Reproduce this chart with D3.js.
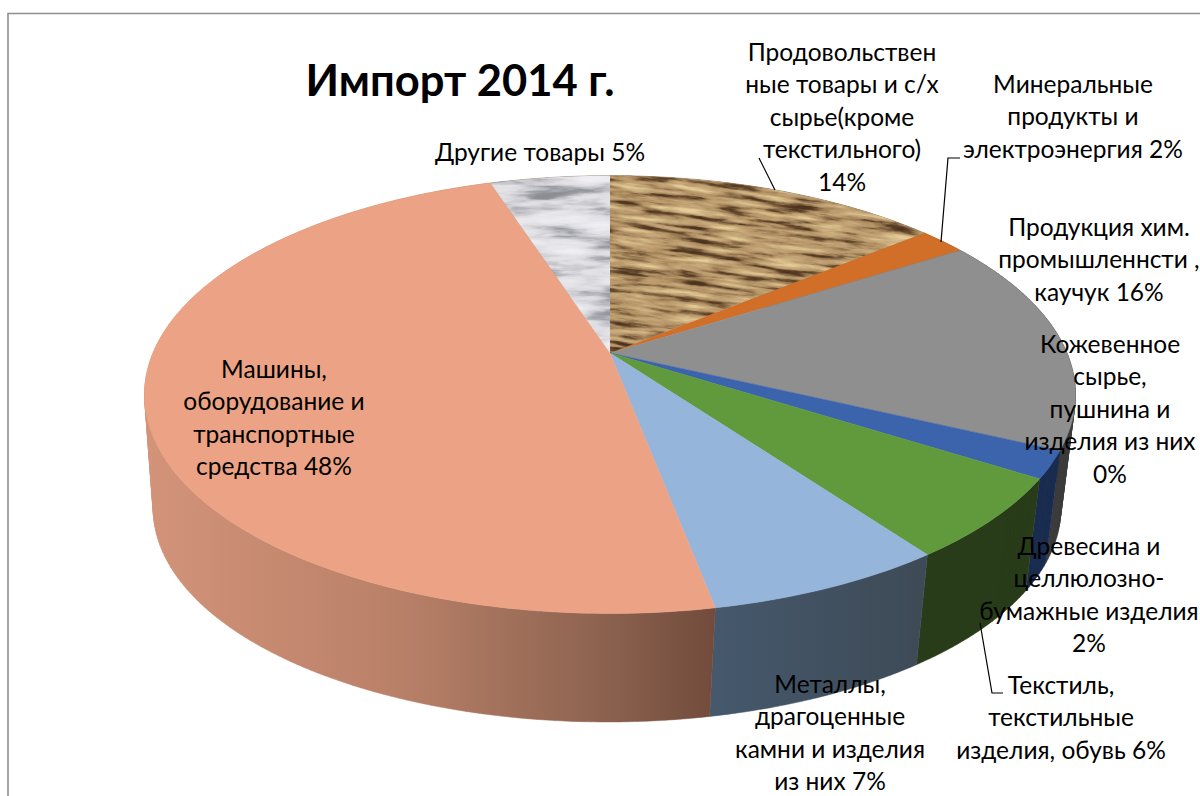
<!DOCTYPE html>
<html lang="ru">
<head>
<meta charset="utf-8">
<title>Импорт 2014 г.</title>
<script src="https://cdn.jsdelivr.net/npm/d3@7"></script>
<style>
  html, body { margin: 0; padding: 0; background: #fff; }
  svg { display: block; }
  text { font-family: Lato, "Open Sans", sans-serif; fill: #000; }
</style>
</head>
<body>
<svg id="chart" width="1200" height="796"></svg>
<script>
const titleText = 'Импорт 2014 г.';
const categories = [
  'Продовольственные товары и с/х сырье(кроме текстильного)',
  'Минеральные продукты и электроэнергия',
  'Продукция хим. промышленнсти , каучук',
  'Кожевенное сырье, пушнина и изделия из них',
  'Древесина и целлюлозно-бумажные изделия',
  'Текстиль, текстильные изделия, обувь',
  'Металлы, драгоценные камни и изделия из них',
  'Машины, оборудование и транспортные средства',
  'Другие товары'
];
const values = [14, 2, 16, 0, 2, 6, 7, 48, 5];
const labelLines = [
  ['Продовольствен', 'ные товары и с/х', 'сырье(кроме', 'текстильного)', '14%'],
  ['Минеральные', 'продукты и', 'электроэнергия 2%'],
  ['Продукция хим.', 'промышленнсти ,', 'каучук 16%'],
  ['Кожевенное', 'сырье,', 'пушнина и', 'изделия из них', '0%'],
  ['Древесина и', 'целлюлозно-', 'бумажные изделия', '2%'],
  ['Текстиль,', 'текстильные', 'изделия, обувь 6%'],
  ['Металлы,', 'драгоценные', 'камни и изделия', 'из них 7%'],
  ['Машины,', 'оборудование и', 'транспортные', 'средства 48%'],
  ['Другие товары 5%']
];

// layout, centre of first line of each label
const labelPos = [[842, 53], [1073, 85], [1099, 228], [1110, 345], [1089, 547], [1061, 686], [830, 685], [274, 370], [540, 153]];
const lineGap = 32.4;

const topFill = ['url(#wheat)', '#d16f28', '#8f8f8f', '#8f8f8f', '#3b64ad', '#619a3d', '#95b5db', '#eca385', 'url(#marble)'];
const sideFill = ['#5f4a30', '#6b3a16', '#3d3d3d', '#3d3d3d', '#1a2d50', '#293c1a', 'url(#sideMetal)', 'url(#sideMachine)', '#777'];

const svg = d3.select('#chart');
const defs = svg.append('defs');

function addGradient(id, stops) {
  const g = defs.append('linearGradient').attr('id', id).attr('gradientUnits', 'userSpaceOnUse')
    .attr('x1', stops[0][0]).attr('x2', stops[stops.length - 1][0]).attr('y1', 0).attr('y2', 0);
  stops.forEach(s => {
    g.append('stop').attr('offset', (s[0] - stops[0][0]) / (stops[stops.length - 1][0] - stops[0][0])).attr('stop-color', s[1]);
  });
}
addGradient('sideMachine', [[150, '#d29379'], [400, '#b98068'], [600, '#8d6350'], [715, '#724b3c']]);
addGradient('sideMetal', [[715, '#45586c'], [925, '#3e4a56']]);

// procedural textures for the two picture filled slices
function addTexture(id, freq, seed, tables) {
  const f = defs.append('filter').attr('id', id + 'Noise')
    .attr('x', 0).attr('y', 0).attr('width', 1).attr('height', 1)
    .attr('color-interpolation-filters', 'sRGB');
  f.append('feTurbulence').attr('type', 'fractalNoise').attr('baseFrequency', freq)
    .attr('numOctaves', 5).attr('seed', seed);
  f.append('feColorMatrix').attr('type', 'matrix')
    .attr('values', '1 0 0 0 0  1 0 0 0 0  1 0 0 0 0  0 0 0 0 1');
  const t = f.append('feComponentTransfer');
  ['feFuncR', 'feFuncG', 'feFuncB'].forEach((fn, i) => {
    t.append(fn).attr('type', 'table').attr('tableValues', tables[i]);
  });
}
addTexture('wheat', '0.02 0.17', 11, [
  '.3 .3 .3 .38 .58 .72 .77 .83 .9 .9 .9',
  '.2 .2 .2 .27 .46 .59 .65 .73 .8 .8 .8',
  '.12 .12 .12 .17 .31 .41 .47 .53 .6 .6 .6'
]);
addTexture('marble', '0.012 0.07', 5, [
  '.55 .55 .55 .62 .78 .87 .9 .93 .94 .94 .94',
  '.55 .55 .55 .62 .78 .87 .9 .93 .94 .94 .94',
  '.58 .58 .58 .65 .8 .89 .92 .95 .96 .96 .96'
]);

// projection of the tilted disc, theta clockwise from 12 o'clock
const cx = 610, cy = 353, A = 457, B = 211, k = 0.19;
function project(theta, scale, dx, dy) {
  const w = 1 + k * Math.cos(theta);
  return [cx + dx + scale * A * Math.sin(theta) / w, cy + dy - scale * B * Math.cos(theta) / w];
}
const bottomScale = 0.975, bottomDx = -3, bottomDy = 115;

const pie = d3.pie().sort(null).value(d => d);
const slices = pie(values);

function rimPoints(d, scale, dx, dy) {
  const n = Math.max(2, Math.ceil((d.endAngle - d.startAngle) * 60));
  return d3.range(n + 1).map(i => project(d.startAngle + (d.endAngle - d.startAngle) * i / n, scale, dx, dy));
}
const line = d3.line();

// wall of a slice as quads with one winding, so their union fills up to the silhouette
function sidePath(d) {
  if (d.value === 0) return null;
  const t = rimPoints(d, 1, 0, 0);
  const b = rimPoints(d, bottomScale, bottomDx, bottomDy);
  return d3.range(t.length - 1).map(i => {
    const quad = [t[i], t[i + 1], b[i + 1], b[i]];
    if (d3.polygonArea(quad) < 0) quad.reverse();
    return line(quad) + 'Z';
  }).join('');
}

// side walls first, the top disc covers the far half
const chart = svg.append('g');
chart.selectAll('.side').data(slices).enter().append('path')
  .attr('class', 'side')
  .attr('d', sidePath)
  .attr('fill', (d, i) => sideFill[i])
  .attr('stroke', (d, i) => sideFill[i])
  .attr('stroke-width', 0.5);

function topPath(d) {
  return line([[cx, cy]].concat(rimPoints(d, 1, 0, 0))) + 'Z';
}

chart.selectAll('.topSlice').data(slices).enter().append('path')
  .attr('class', 'topSlice')
  .attr('d', d => (d.value === 0 ? null : topPath(d)))
  .attr('fill', (d, i) => (i === 0 || i === 8 ? '#c9a877' : topFill[i]))
  .attr('stroke', (d, i) => (i === 0 || i === 8 ? 'none' : topFill[i]))
  .attr('stroke-width', 0.5);

// textures are rects clipped to their slice
[[0, 'wheat', 7], [8, 'marble', 0]].forEach(([idx, id, angle]) => {
  defs.append('clipPath').attr('id', id + 'Clip').append('path').attr('d', topPath(slices[idx]));
  chart.append('g').attr('clip-path', `url(#${id}Clip)`)
    .append('g').attr('transform', `rotate(${angle} ${cx} ${cy})`)
    .append('rect')
    .attr('x', cx - 200).attr('y', cy - 260).attr('width', 620).attr('height', 360)
    .attr('filter', `url(#${id}Noise)`);
});

// frame of the cropped chart area
svg.append('path').attr('d', 'M8,796V13.5H1200').attr('fill', 'none').attr('stroke', '#8f8f8f').attr('stroke-width', 1.6);

// leader lines
const leaders = [
  [[759, 158], [775, 190]],
  [[960, 158], [948, 158], [941, 242]],
  [[980, 623], [992, 693], [1003, 693]]
];
svg.selectAll('.leader').data(leaders).enter().append('path')
  .attr('class', 'leader').attr('d', line).attr('fill', 'none').attr('stroke', '#000').attr('stroke-width', 1.2);

svg.append('text').attr('x', 460).attr('y', 96).attr('text-anchor', 'middle')
  .attr('font-size', 43.5).attr('font-weight', 700).text(titleText);

const labels = svg.selectAll('.label').data(labelLines).enter().append('text')
  .attr('class', 'label').attr('text-anchor', 'middle').attr('font-size', 24.5);
labels.selectAll('tspan').data((d, i) => d.map((t, j) => ({ t, j, i }))).enter().append('tspan')
  .attr('x', d => labelPos[d.i][0])
  .attr('y', d => labelPos[d.i][1] + 8 + d.j * lineGap)
  .text(d => d.t);
</script>
</body>
</html>
